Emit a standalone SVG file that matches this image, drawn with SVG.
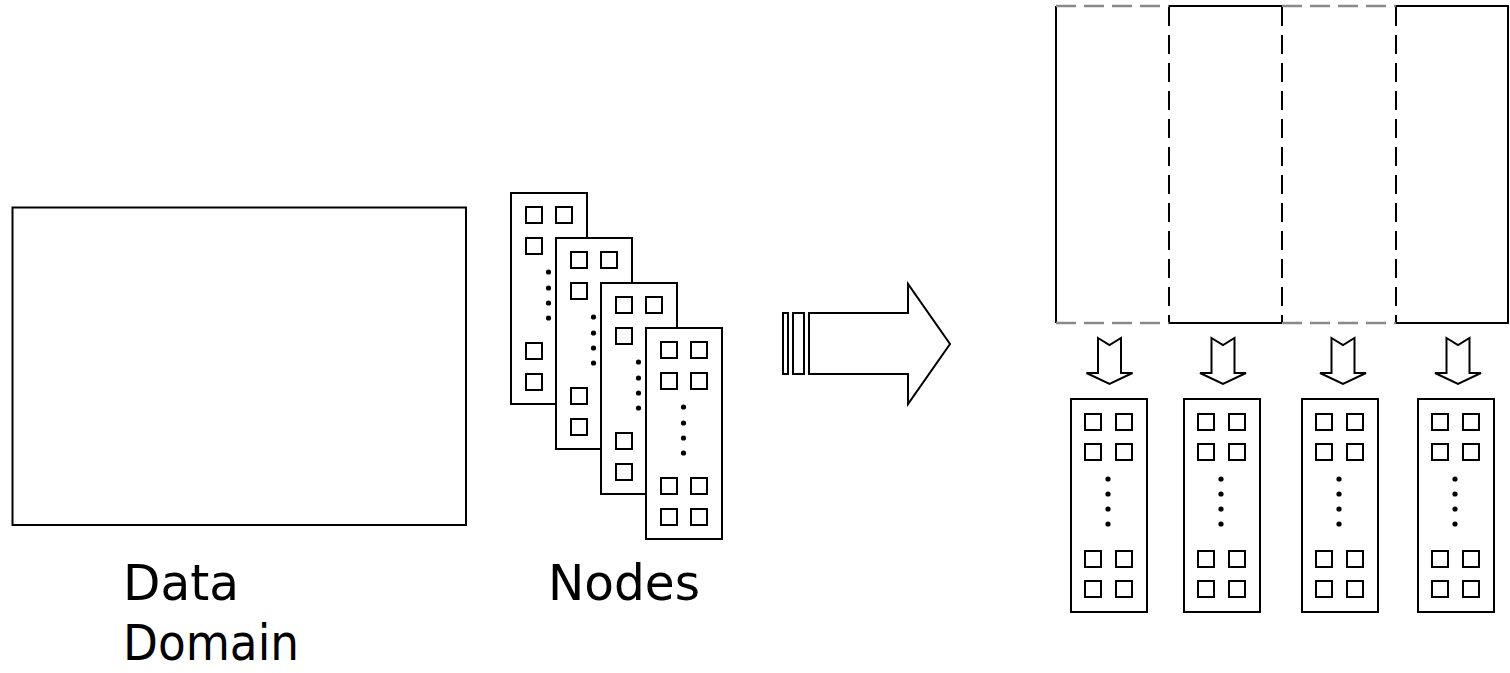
<svg xmlns="http://www.w3.org/2000/svg" xmlns:xlink="http://www.w3.org/1999/xlink" width="1510" height="673" viewBox="0 0 1510 673">
<style>
.ln{fill:#fff;stroke:#000;stroke-width:2}
.sq{fill:#fff;stroke:#000;stroke-width:2}
.dot{fill:#000}
.dash{fill:none;stroke:#000;stroke-width:2;stroke-dasharray:19 9}
.gdash{fill:none;stroke:#8a8a8a;stroke-width:2.5;stroke-dasharray:20 8}
.solid{fill:none;stroke:#000;stroke-width:2}
.lbl{font-family:"DejaVu Sans","Liberation Sans",sans-serif;font-size:50px;fill:#000}
</style>
<defs>
<g id="cardL">
<rect class="ln" x="0" y="0" width="76" height="211"/>
<rect class="sq" x="15" y="14" width="16" height="16"/><rect class="sq" x="45" y="14" width="16" height="16"/>
<rect class="sq" x="15" y="45" width="16" height="16"/><rect class="sq" x="45" y="45" width="16" height="16"/>
<circle class="dot" cx="37.5" cy="79" r="2.6"/><circle class="dot" cx="37.5" cy="95" r="2.6"/>
<circle class="dot" cx="37.5" cy="110" r="2.6"/><circle class="dot" cx="37.5" cy="125" r="2.6"/>
<rect class="sq" x="15" y="150" width="16" height="16"/><rect class="sq" x="45" y="150" width="16" height="16"/>
<rect class="sq" x="15" y="181" width="16" height="16"/><rect class="sq" x="45" y="181" width="16" height="16"/>
</g>
<g id="cardR">
<rect class="ln" x="0" y="0" width="76" height="213"/>
<rect class="sq" x="14" y="15" width="16" height="16"/><rect class="sq" x="45" y="15" width="16" height="16"/>
<rect class="sq" x="14" y="45" width="16" height="16"/><rect class="sq" x="45" y="45" width="16" height="16"/>
<circle class="dot" cx="37" cy="80" r="2.6"/><circle class="dot" cx="37" cy="95" r="2.6"/>
<circle class="dot" cx="37" cy="110" r="2.6"/><circle class="dot" cx="37" cy="125" r="2.6"/>
<rect class="sq" x="14" y="152" width="16" height="16"/><rect class="sq" x="45" y="152" width="16" height="16"/>
<rect class="sq" x="14" y="182" width="16" height="16"/><rect class="sq" x="45" y="182" width="16" height="16"/>
</g>
<path id="downArrow" class="ln" d="M-11.5,338 L0,345 L11.5,338 L11.5,373 L23,373 L0,384 L-23,373 L-11.5,373 Z"/>
</defs>

<g id="data-domain">
<rect class="ln" x="12.5" y="207.5" width="453.5" height="317.5"/>
<text class="lbl" x="123" y="600" textLength="116" lengthAdjust="spacingAndGlyphs">Data</text>
<text class="lbl" x="123" y="660" textLength="176" lengthAdjust="spacingAndGlyphs">Domain</text>
</g>

<g id="nodes">
<use xlink:href="#cardL" x="511" y="193"/>
<use xlink:href="#cardL" x="556" y="238"/>
<use xlink:href="#cardL" x="601" y="283"/>
<use xlink:href="#cardL" x="646" y="328"/>
<text class="lbl" x="548" y="600" textLength="152" lengthAdjust="spacingAndGlyphs">Nodes</text>
</g>

<g id="partitioned-domain">
<line class="solid" x1="1056" y1="6" x2="1056" y2="323"/>
<line class="solid" x1="1508" y1="6" x2="1508" y2="323"/>
<line class="solid" x1="1169" y1="6" x2="1282" y2="6"/>
<line class="solid" x1="1396" y1="6" x2="1509" y2="6"/>
<line class="solid" x1="1169" y1="323" x2="1282" y2="323"/>
<line class="solid" x1="1396" y1="323" x2="1509" y2="323"/>
<line class="gdash" x1="1056" y1="6" x2="1169" y2="6"/>
<line class="gdash" x1="1282" y1="6" x2="1396" y2="6"/>
<line class="gdash" x1="1056" y1="323" x2="1169" y2="323"/>
<line class="gdash" x1="1282" y1="323" x2="1396" y2="323"/>
<line class="dash" x1="1169" y1="7" x2="1169" y2="322"/>
<line class="dash" x1="1282" y1="7" x2="1282" y2="322"/>
<line class="dash" x1="1396" y1="7" x2="1396" y2="322"/>
</g>

<g id="node-1"><use xlink:href="#cardR" x="1071" y="399"/></g>
<g id="node-2"><use xlink:href="#cardR" x="1184" y="399"/></g>
<g id="node-3"><use xlink:href="#cardR" x="1302" y="399"/></g>
<g id="node-4"><use xlink:href="#cardR" x="1418" y="399"/></g>

<g id="connectors">
<rect class="ln" x="783" y="313" width="5" height="61"/>
<rect class="ln" x="793" y="313" width="11" height="61"/>
<path class="ln" d="M809,313 L908,313 L908,284 L950,344 L908,404 L908,374 L809,374 Z"/>
<use xlink:href="#downArrow" x="1109.5" y="0"/>
<use xlink:href="#downArrow" x="1223" y="0"/>
<use xlink:href="#downArrow" x="1343" y="0"/>
<use xlink:href="#downArrow" x="1458" y="0"/>
</g>
</svg>
